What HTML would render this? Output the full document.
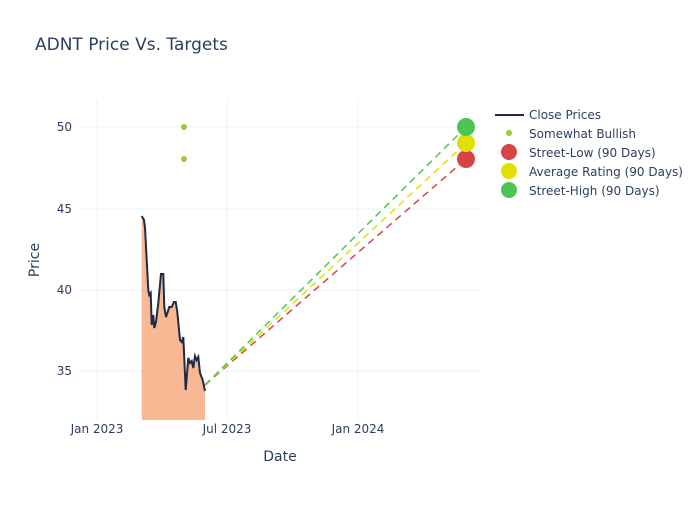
<!DOCTYPE html>
<html><head><style>body{margin:0;background:#fff}svg{font-family:"DejaVu Sans","Liberation Sans",sans-serif}</style></head><body>
<svg width="700" height="500" xmlns="http://www.w3.org/2000/svg">
<rect width="700" height="500" fill="#fff"/>
<g stroke="#ebf0f8" stroke-width="1">
<line x1="80" x2="480" y1="127" y2="127"/><line x1="80" x2="480" y1="209" y2="209"/><line x1="80" x2="480" y1="290" y2="290"/><line x1="80" x2="480" y1="371" y2="371"/>
<line x1="97" x2="97" y1="100" y2="420"/><line x1="227" x2="227" y1="100" y2="420"/><line x1="358" x2="358" y1="100" y2="420"/>
</g>
<polygon fill="#f9b894" points="141.7,420 141.7,216 144,220 145,228 148.3,290 149.3,295 150.7,293 151.7,325 153.3,315 154.3,328 156,322 158.3,303 161,274 163.3,274 164.3,307 166,317 169.3,307 171.7,307 174,302 175.7,302 177.3,312 180,340 181.7,342 183.3,337 185.7,390 188.3,358 190,363 191.7,361 193.3,368 195,356 196.7,360 198.3,357 200,373 202.7,380 205,391 205,420"/>
<polyline fill="none" stroke="#1f2a44" stroke-width="2" points="141.7,216 144,220 145,228 148.3,290 149.3,295 150.7,293 151.7,325 153.3,315 154.3,328 156,322 158.3,303 161,274 163.3,274 164.3,307 166,317 169.3,307 171.7,307 174,302 175.7,302 177.3,312 180,340 181.7,342 183.3,337 185.7,390 188.3,358 190,363 191.7,361 193.3,368 195,356 196.7,360 198.3,357 200,373 202.7,380 205,391"/>
<g stroke-width="1.5" stroke-dasharray="7,5" fill="none">
<line x1="205" y1="385" x2="466" y2="159" stroke="#d64545"/>
<line x1="205" y1="385" x2="466" y2="143" stroke="#e0e000"/>
<line x1="205" y1="385" x2="466" y2="127" stroke="#4cc552"/>
</g>
<circle cx="184" cy="127" r="3" fill="#9acd32"/><circle cx="184" cy="159" r="3" fill="#9acd32"/>
<circle cx="466" cy="159" r="9" fill="#d64545"/><circle cx="466" cy="143" r="9" fill="#e0e000"/><circle cx="466" cy="127" r="9" fill="#4cc552"/>
<g fill="#2a3f5f" font-size="12" text-anchor="end">
<text x="72" y="131">50</text><text x="72" y="213">45</text><text x="72" y="294">40</text><text x="72" y="375">35</text>
</g>
<g fill="#2a3f5f" font-size="12" text-anchor="middle">
<text x="97" y="433">Jan 2023</text><text x="227" y="433">Jul 2023</text><text x="358" y="433">Jan 2024</text>
<text x="280" y="461" font-size="14">Date</text>
</g>
<text transform="translate(39,260) rotate(-90)" fill="#2a3f5f" font-size="14" text-anchor="middle">Price</text>
<text x="35" y="50" fill="#2a3f5f" font-size="17">ADNT Price Vs. Targets</text>
<g fill="#2a3f5f" font-size="12">
<line x1="495" x2="524" y1="115" y2="115" stroke="#1f2a44" stroke-width="2"/><text x="529" y="119">Close Prices</text>
<circle cx="509" cy="133" r="3" fill="#9acd32"/><text x="529" y="138">Somewhat Bullish</text>
<circle cx="509" cy="152" r="8" fill="#d64545"/><text x="529" y="157">Street-Low (90 Days)</text>
<circle cx="509" cy="171" r="8" fill="#e0e000"/><text x="529" y="176">Average Rating (90 Days)</text>
<circle cx="509" cy="190" r="8" fill="#4cc552"/><text x="529" y="195">Street-High (90 Days)</text>
</g>
</svg>
</body></html>
